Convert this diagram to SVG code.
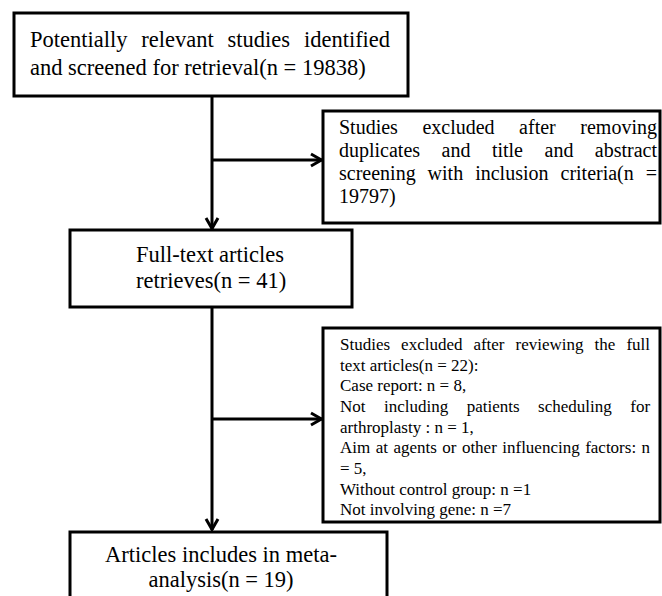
<svg xmlns="http://www.w3.org/2000/svg" width="662" height="596" viewBox="0 0 662 596">
<style>
.box{fill:#fff;stroke:#000;stroke-width:3}
.t{font-family:"Liberation Serif","Times New Roman",serif;fill:#000}
.big{font-size:22.5px}
.mid{font-size:20px}
.sm{font-size:17px}
.conn{stroke:#000;stroke-width:3;fill:none}
</style>
<defs>
<marker id="arr" markerUnits="userSpaceOnUse" markerWidth="16" markerHeight="16" viewBox="0 0 16 16" refX="14" refY="8" orient="auto">
<path d="M3,2 L13.5,8 L3,14" fill="none" stroke="#000" stroke-width="3"/>
</marker>
</defs>
<rect width="662" height="596" fill="#fff"/>
<g id="connectors">
<line class="conn" x1="212" y1="96" x2="212" y2="229" marker-end="url(#arr)"/>
<line class="conn" x1="212" y1="160" x2="322" y2="160" marker-end="url(#arr)"/>
<line class="conn" x1="212" y1="307" x2="212" y2="530" marker-end="url(#arr)"/>
<line class="conn" x1="212" y1="419" x2="322" y2="419" marker-end="url(#arr)"/>
</g>
<g id="n1">
<rect class="box" x="14" y="13" width="394" height="83"/>
<text class="t big" y="47"><tspan x="30">Potentially</tspan><tspan x="141.3">relevant</tspan><tspan x="227.6">studies</tspan><tspan x="303.9">identified</tspan></text>
<text class="t big" x="30" y="75">and screened for retrieval(n = 19838)</text>
</g>
<g id="n2">
<rect class="box" x="323" y="111" width="337" height="112"/>
<text class="t mid" y="134"><tspan x="339">Studies</tspan><tspan x="422.4">excluded</tspan><tspan x="519.1">after</tspan><tspan x="580.3">removing</tspan></text>
<text class="t mid" y="157"><tspan x="339">duplicates</tspan><tspan x="441.5">and</tspan><tspan x="491.9">title</tspan><tspan x="544.5">and</tspan><tspan x="594.8">abstract</tspan></text>
<text class="t mid" y="180"><tspan x="339">screening</tspan><tspan x="427.6">with</tspan><tspan x="475.2">inclusion</tspan><tspan x="560.5">criteria(n</tspan><tspan x="645.8">=</tspan></text>
<text class="t mid" x="339" y="203">19797)</text>
</g>
<g id="n3">
<rect class="box" x="70" y="230" width="282" height="77"/>
<text class="t big" x="136" y="262">Full-text articles</text>
<text class="t big" x="136" y="288">retrieves(n = 41)</text>
</g>
<g id="n4">
<rect class="box" x="323" y="328" width="337" height="194"/>
<text class="t sm" y="350"><tspan x="340">Studies</tspan><tspan x="401.1">excluded</tspan><tspan x="473.4">after</tspan><tspan x="515.6">reviewing</tspan><tspan x="594.6">the</tspan><tspan x="626.4">full</tspan></text>
<text class="t sm" x="340" y="371">text articles(n = 22):</text>
<text class="t sm" x="340" y="391">Case report: n = 8,</text>
<text class="t sm" y="412"><tspan x="340">Not</tspan><tspan x="384">including</tspan><tspan x="466.7">patients</tspan><tspan x="538.1">scheduling</tspan><tspan x="630.3">for</tspan></text>
<text class="t sm" x="340" y="433">arthroplasty : n = 1,</text>
<text class="t sm" x="340" y="453" word-spacing="1.2">Aim at agents or other influencing factors: n</text>
<text class="t sm" x="340" y="474">= 5,</text>
<text class="t sm" x="340" y="495">Without control group: n =1</text>
<text class="t sm" x="340" y="515">Not involving gene: n =7</text>
</g>
<g id="n5">
<rect class="box" x="70" y="532" width="317" height="70"/>
<text class="t big" x="221" y="562" text-anchor="middle">Articles includes in meta-</text>
<text class="t big" x="221" y="587" text-anchor="middle">analysis(n = 19)</text>
</g>
</svg>
